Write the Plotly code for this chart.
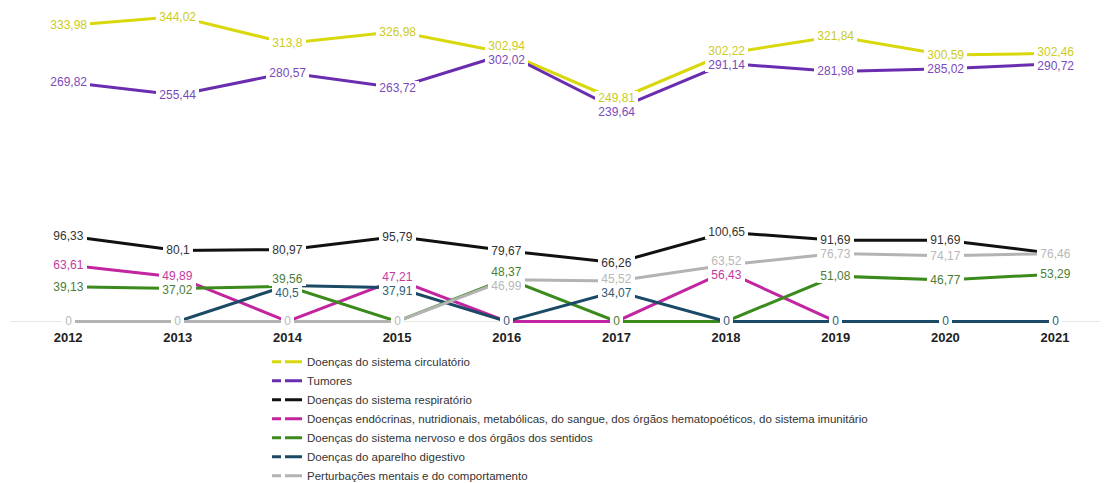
import plotly.graph_objects as go

years = ["2012", "2013", "2014", "2015", "2016", "2017", "2018", "2019", "2020", "2021"]

circulatorio = [333.98, 344.02, 313.8, 326.98, 302.94, 249.81, 302.22, 321.84, 300.59, 302.46]
tumores = [269.82, 255.44, 280.57, 263.72, 302.02, 239.64, 291.14, 281.98, 285.02, 290.72]
respiratorio = [96.33, 80.1, 80.97, 95.79, 79.67, 66.26, 100.65, 91.69, 91.69, 76.46]
endocrinas = [63.61, 49.89, 0, 47.21, 0, 0, 56.43, 0, 0, 0]
nervoso = [39.13, 37.02, 39.56, 0, 48.37, 0, 0, 51.08, 46.77, 53.29]
digestivo = [0, 0, 40.5, 37.91, 0, 34.07, 0, 0, 0, 0]
mentais = [0, 0, 0, 0, 46.99, 45.52, 63.52, 76.73, 74.17, 76.46]

series = [
    ("Doenças do sistema circulatório", circulatorio, "#d8d80c", "#cbcb1e"),
    ("Tumores", tumores, "#6a2db0", "#7a4abb"),
    ("Doenças do sistema respiratório", respiratorio, "#111111", "#333333"),
    ("Doenças endócrinas, nutridionais, metabólicas, do sangue, dos órgãos hematopoéticos, do sistema imunitário",
     endocrinas, "#c2259f", "#c23aa0"),
    ("Doenças do sistema nervoso e dos órgãos dos sentidos", nervoso, "#3b8a1c", "#4a7d35"),
    ("Doenças do aparelho digestivo", digestivo, "#1a4a66", "#2f5d78"),
    ("Perturbações mentais e do comportamento", mentais, "#b3b3b3", "#b8b8b8"),
]

Y_MIN, Y_MAX = -1.8, 357.0
PLOT_H = 318          # plot area height in px (483 - 5 - 160)
PX = PLOT_H / (Y_MAX - Y_MIN)   # px per unit on the y axis
MIN_SEP = 14          # minimum vertical distance between stacked labels (px)
TIE_PX = 2            # labels closer than this keep series order
FONT = "Liberation Sans, Arial, sans-serif"

xpos = list(range(len(years)))

fig = go.Figure()

for i, (name, vals, color, label_color) in enumerate(series):
    fig.add_trace(go.Scatter(
        x=xpos, y=vals, mode="lines", name=name,
        line=dict(color=color, width=3),
        showlegend=False, hoverinfo="skip",
    ))
    # legend entry with the split-dash symbol
    fig.add_trace(go.Scatter(
        x=[None], y=[None], mode="lines", name=name,
        line=dict(color=color, width=3, dash="9px,4px,17px,20px"),
        showlegend=True,
    ))


def order_labels(labels):
    """Top-to-bottom order; near ties keep the series order."""
    labels = sorted(labels, key=lambda d: -d["px"])
    changed = True
    while changed:
        changed = False
        for k in range(len(labels) - 1):
            a, b = labels[k], labels[k + 1]
            if abs(a["px"] - b["px"]) < TIE_PX and a["s"] > b["s"]:
                labels[k], labels[k + 1] = b, a
                changed = True
    return labels


# Value labels: identical values at one year keep only the topmost series'
# label; labels that crowd each other are spread apart vertically.
for xi in xpos:
    labels = []
    seen = {}
    for si, (name, vals, color, label_color) in enumerate(series):
        v = vals[xi]
        if v in seen:
            labels.remove(seen[v])
        item = {"s": si, "v": v, "px": v * PX, "color": label_color}
        seen[v] = item
        labels.append(item)
    labels = order_labels(labels)
    pos = [d["px"] for d in labels]
    for _ in range(50):
        moved = False
        for k in range(len(pos) - 1):
            gap = pos[k] - pos[k + 1]
            if gap < MIN_SEP:
                push = (MIN_SEP - gap) / 2
                pos[k] += push
                pos[k + 1] -= push
                moved = True
        if not moved:
            break
    for d, p in zip(labels, pos):
        fig.add_annotation(
            x=xi, y=d["v"], xref="x", yref="y", showarrow=False,
            yshift=p - d["px"],
            text="\u00a0" + f"{d['v']:g}".replace(".", ",") + "\u00a0",
            font=dict(family=FONT, size=12, color=d["color"]),
            bgcolor="white", borderpad=0, borderwidth=0,
        )

fig.update_layout(
    width=1108, height=483,
    margin=dict(l=10, r=8, t=5, b=160, autoexpand=False),
    paper_bgcolor="white", plot_bgcolor="white",
    showlegend=True,
    legend=dict(
        x=0.2358, y=-0.076, xanchor="left", yanchor="top",
        orientation="v", traceorder="normal",
        font=dict(family=FONT, size=11.5, color="#333333"),
        itemwidth=30, bgcolor="rgba(0,0,0,0)",
    ),
    xaxis=dict(
        range=[-0.53, 9.41], tickvals=xpos, ticktext=years,
        showgrid=False, zeroline=False, showline=False,
        ticks="", ticklabelstandoff=5,
        tickfont=dict(family=FONT, size=13, color="#222222", weight="bold"),
    ),
    yaxis=dict(
        range=[Y_MIN, Y_MAX], showticklabels=False, ticks="", showgrid=False,
        showline=False, zeroline=True, zerolinecolor="#e6e6e6", zerolinewidth=1,
    ),
)

fig.write_html("out.html")
